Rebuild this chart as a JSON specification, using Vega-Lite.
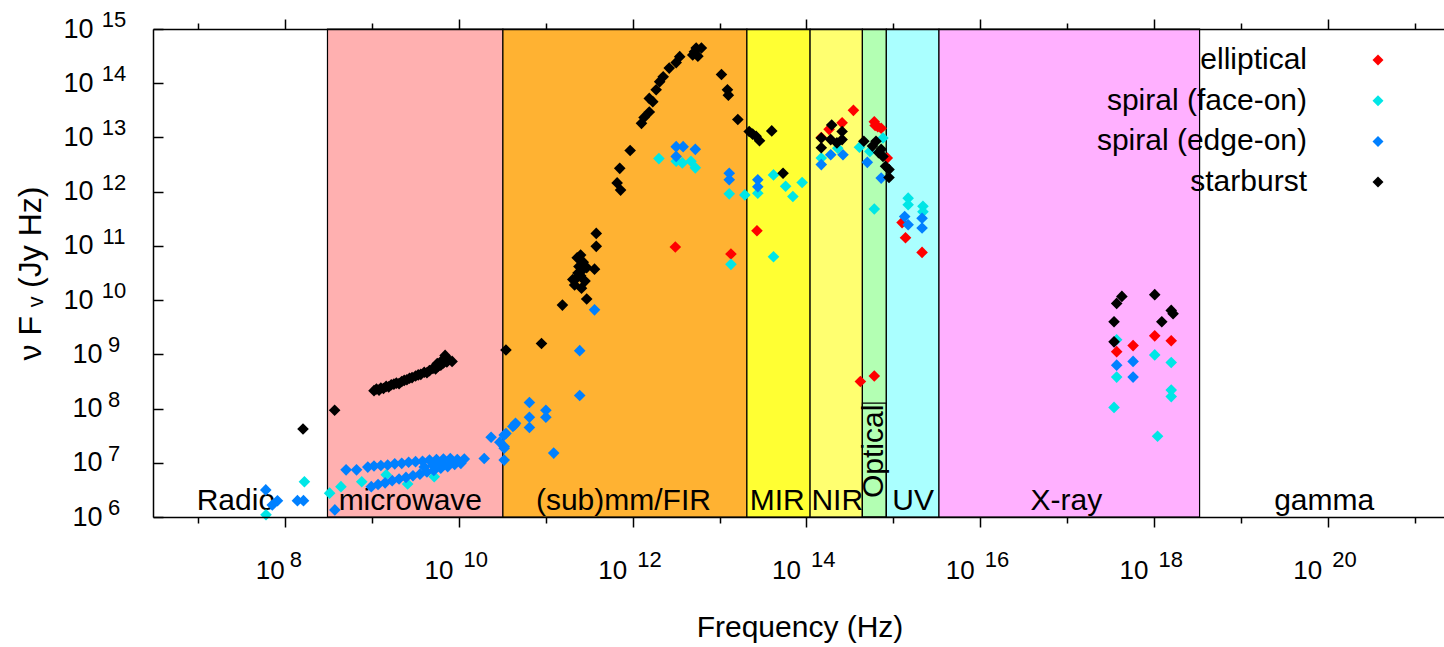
{
  "$schema": "https://vega.github.io/schema/vega-lite/v6.json",
  "width": 1293,
  "height": 488,
  "autosize": "none",
  "padding": {"left": 153, "top": 29, "right": 0, "bottom": 130},
  "background": "white",
  "config": {"view": {"stroke": null}, "font": "Liberation Sans"},
  "resolve": {"axis": {"x": "independent", "y": "independent"}},
  "datasets": {
    "bands": [
      {"band": "Radio", "lo": 3e6, "hi": 3.06e8, "mid": 2.7e7},
      {"band": "microwave", "lo": 3.06e8, "hi": 3.2e10, "mid": 2.75e9},
      {"band": "(sub)mm/FIR", "lo": 3.2e10, "hi": 2.06e13, "mid": 7.8e11},
      {"band": "MIR", "lo": 2.06e13, "hi": 1.1e14, "mid": 4.6e13},
      {"band": "NIR", "lo": 1.1e14, "hi": 4.4e14, "mid": 2.26e14},
      {"band": "Optical", "lo": 4.4e14, "hi": 8.3e14, "mid": 6.03e14},
      {"band": "UV", "lo": 8.3e14, "hi": 3.35e15, "mid": 1.69e15},
      {"band": "X-ray", "lo": 3.35e15, "hi": 3.35e18, "mid": 9.8e16},
      {"band": "gamma", "lo": 3.35e18, "hi": 2.3e21, "mid": 9.1e19}
    ],
    "xexp": [
      {"e": "8", "v": 1e8}, {"e": "10", "v": 1e10}, {"e": "12", "v": 1e12}, {"e": "14", "v": 1e14},
      {"e": "16", "v": 1e16}, {"e": "18", "v": 1e18}, {"e": "20", "v": 1e20}
    ],
    "yexp": [
      {"e": "6", "v": 1e6}, {"e": "7", "v": 1e7}, {"e": "8", "v": 1e8}, {"e": "9", "v": 1e9}, {"e": "10", "v": 1e10},
      {"e": "11", "v": 1e11}, {"e": "12", "v": 1e12}, {"e": "13", "v": 1e13}, {"e": "14", "v": 1e14}, {"e": "15", "v": 1e15}
    ],
    "pts": [
      {"type": "elliptical", "nu": 3.09e12, "flux": 9.55e10},
      {"type": "elliptical", "nu": 1.35e13, "flux": 7.08e10},
      {"type": "elliptical", "nu": 2.69e13, "flux": 1.9e11},
      {"type": "elliptical", "nu": 3.47e14, "flux": 3.16e13},
      {"type": "elliptical", "nu": 2.57e14, "flux": 1.86e13},
      {"type": "elliptical", "nu": 1.82e14, "flux": 1.41e13},
      {"type": "elliptical", "nu": 1.48e14, "flux": 1.0e13},
      {"type": "elliptical", "nu": 6.03e14, "flux": 1.95e13},
      {"type": "elliptical", "nu": 6.61e14, "flux": 1.58e13},
      {"type": "elliptical", "nu": 7.24e14, "flux": 1.48e13},
      {"type": "elliptical", "nu": 6.17e14, "flux": 1.66e13},
      {"type": "elliptical", "nu": 8.51e14, "flux": 4.17e12},
      {"type": "elliptical", "nu": 1.26e15, "flux": 2.69e11},
      {"type": "elliptical", "nu": 1.38e15, "flux": 1.41e11},
      {"type": "elliptical", "nu": 2.14e15, "flux": 7.59e10},
      {"type": "elliptical", "nu": 4.17e14, "flux": 3.16e8},
      {"type": "elliptical", "nu": 6.03e14, "flux": 3.98e8},
      {"type": "elliptical", "nu": 3.72e17, "flux": 1.12e9},
      {"type": "elliptical", "nu": 5.75e17, "flux": 1.45e9},
      {"type": "elliptical", "nu": 1.02e18, "flux": 2.19e9},
      {"type": "elliptical", "nu": 1.58e18, "flux": 1.78e9},

      {"type": "spiral (face-on)", "nu": 6.0e7, "flux": 1.1e6},
      {"type": "spiral (face-on)", "nu": 1.66e8, "flux": 4.47e6},
      {"type": "spiral (face-on)", "nu": 3.24e8, "flux": 2.75e6},
      {"type": "spiral (face-on)", "nu": 4.37e8, "flux": 3.63e6},
      {"type": "spiral (face-on)", "nu": 7.59e8, "flux": 4.47e6},
      {"type": "spiral (face-on)", "nu": 1.45e9, "flux": 6.03e6},
      {"type": "spiral (face-on)", "nu": 2.56e9, "flux": 4.06e6},
      {"type": "spiral (face-on)", "nu": 5.18e9, "flux": 5.55e6},
      {"type": "spiral (face-on)", "nu": 2.0e12, "flux": 4.07e12},
      {"type": "spiral (face-on)", "nu": 3.16e12, "flux": 3.63e12},
      {"type": "spiral (face-on)", "nu": 3.72e12, "flux": 3.39e12},
      {"type": "spiral (face-on)", "nu": 4.68e12, "flux": 3.63e12},
      {"type": "spiral (face-on)", "nu": 5.25e12, "flux": 2.75e12},
      {"type": "spiral (face-on)", "nu": 1.29e13, "flux": 9.12e11},
      {"type": "spiral (face-on)", "nu": 1.95e13, "flux": 8.71e11},
      {"type": "spiral (face-on)", "nu": 2.75e13, "flux": 9.33e11},
      {"type": "spiral (face-on)", "nu": 1.35e13, "flux": 4.57e10},
      {"type": "spiral (face-on)", "nu": 4.17e13, "flux": 2.04e12},
      {"type": "spiral (face-on)", "nu": 5.75e13, "flux": 1.26e12},
      {"type": "spiral (face-on)", "nu": 6.97e13, "flux": 8.13e11},
      {"type": "spiral (face-on)", "nu": 8.91e13, "flux": 1.48e12},
      {"type": "spiral (face-on)", "nu": 4.17e13, "flux": 6.31e10},
      {"type": "spiral (face-on)", "nu": 1.48e14, "flux": 4.17e12},
      {"type": "spiral (face-on)", "nu": 2.29e14, "flux": 6.31e12},
      {"type": "spiral (face-on)", "nu": 4.07e14, "flux": 6.61e12},
      {"type": "spiral (face-on)", "nu": 5.37e14, "flux": 5.5e12},
      {"type": "spiral (face-on)", "nu": 6.03e14, "flux": 4.79e11},
      {"type": "spiral (face-on)", "nu": 7.59e14, "flux": 9.77e12},
      {"type": "spiral (face-on)", "nu": 1.48e15, "flux": 7.59e11},
      {"type": "spiral (face-on)", "nu": 1.48e15, "flux": 5.75e11},
      {"type": "spiral (face-on)", "nu": 2.19e15, "flux": 5.37e11},
      {"type": "spiral (face-on)", "nu": 2.19e15, "flux": 4.27e11},
      {"type": "spiral (face-on)", "nu": 3.72e17, "flux": 1.86e9},
      {"type": "spiral (face-on)", "nu": 3.72e17, "flux": 3.8e8},
      {"type": "spiral (face-on)", "nu": 1.02e18, "flux": 9.77e8},
      {"type": "spiral (face-on)", "nu": 1.58e18, "flux": 7.08e8},
      {"type": "spiral (face-on)", "nu": 1.58e18, "flux": 2.19e8},
      {"type": "spiral (face-on)", "nu": 1.58e18, "flux": 1.66e8},
      {"type": "spiral (face-on)", "nu": 3.47e17, "flux": 1.05e8},
      {"type": "spiral (face-on)", "nu": 1.1e18, "flux": 3.09e7},

      {"type": "spiral (edge-on)", "nu": 5.96e7, "flux": 3.16e6},
      {"type": "spiral (edge-on)", "nu": 8.13e7, "flux": 1.99e6},
      {"type": "spiral (edge-on)", "nu": 7.08e7, "flux": 1.66e6},
      {"type": "spiral (edge-on)", "nu": 1.38e8, "flux": 2.0e6},
      {"type": "spiral (edge-on)", "nu": 1.62e8, "flux": 2.0e6},
      {"type": "spiral (edge-on)", "nu": 3.72e8, "flux": 1.35e6},
      {"type": "spiral (edge-on)", "nu": 5.01e8, "flux": 7.41e6},
      {"type": "spiral (edge-on)", "nu": 6.61e8, "flux": 7.41e6},
      {"type": "spiral (edge-on)", "nu": 8.91e8, "flux": 8.32e6},
      {"type": "spiral (edge-on)", "nu": 1.05e9, "flux": 8.71e6},
      {"type": "spiral (edge-on)", "nu": 1.26e9, "flux": 8.91e6},
      {"type": "spiral (edge-on)", "nu": 1.51e9, "flux": 9.12e6},
      {"type": "spiral (edge-on)", "nu": 1.82e9, "flux": 9.55e6},
      {"type": "spiral (edge-on)", "nu": 2.19e9, "flux": 9.77e6},
      {"type": "spiral (edge-on)", "nu": 2.63e9, "flux": 1.02e7},
      {"type": "spiral (edge-on)", "nu": 3.16e9, "flux": 1.05e7},
      {"type": "spiral (edge-on)", "nu": 3.8e9, "flux": 1.07e7},
      {"type": "spiral (edge-on)", "nu": 4.57e9, "flux": 1.12e7},
      {"type": "spiral (edge-on)", "nu": 5.5e9, "flux": 1.15e7},
      {"type": "spiral (edge-on)", "nu": 6.61e9, "flux": 1.17e7},
      {"type": "spiral (edge-on)", "nu": 7.94e9, "flux": 1.2e7},
      {"type": "spiral (edge-on)", "nu": 9.55e9, "flux": 1.15e7},
      {"type": "spiral (edge-on)", "nu": 1.15e10, "flux": 1.17e7},
      {"type": "spiral (edge-on)", "nu": 9.77e8, "flux": 3.63e6},
      {"type": "spiral (edge-on)", "nu": 1.17e9, "flux": 3.98e6},
      {"type": "spiral (edge-on)", "nu": 1.41e9, "flux": 4.27e6},
      {"type": "spiral (edge-on)", "nu": 1.7e9, "flux": 4.68e6},
      {"type": "spiral (edge-on)", "nu": 2.04e9, "flux": 5.01e6},
      {"type": "spiral (edge-on)", "nu": 2.45e9, "flux": 5.37e6},
      {"type": "spiral (edge-on)", "nu": 2.95e9, "flux": 5.75e6},
      {"type": "spiral (edge-on)", "nu": 3.55e9, "flux": 6.17e6},
      {"type": "spiral (edge-on)", "nu": 4.27e9, "flux": 6.76e6},
      {"type": "spiral (edge-on)", "nu": 5.13e9, "flux": 7.24e6},
      {"type": "spiral (edge-on)", "nu": 6.17e9, "flux": 7.94e6},
      {"type": "spiral (edge-on)", "nu": 7.41e9, "flux": 8.51e6},
      {"type": "spiral (edge-on)", "nu": 8.91e9, "flux": 9.33e6},
      {"type": "spiral (edge-on)", "nu": 1.05e10, "flux": 9.77e6},
      {"type": "spiral (edge-on)", "nu": 3.98e9, "flux": 8.32e6},
      {"type": "spiral (edge-on)", "nu": 6.31e9, "flux": 9.55e6},
      {"type": "spiral (edge-on)", "nu": 7.94e9, "flux": 1.0e7},
      {"type": "spiral (edge-on)", "nu": 5.01e9, "flux": 8.91e6},
      {"type": "spiral (edge-on)", "nu": 1.95e10, "flux": 1.2e7},
      {"type": "spiral (edge-on)", "nu": 2.34e10, "flux": 2.95e7},
      {"type": "spiral (edge-on)", "nu": 2.95e10, "flux": 2.4e7},
      {"type": "spiral (edge-on)", "nu": 3.31e10, "flux": 1.86e7},
      {"type": "spiral (edge-on)", "nu": 3.47e10, "flux": 3.47e7},
      {"type": "spiral (edge-on)", "nu": 4.37e10, "flux": 5.01e7},
      {"type": "spiral (edge-on)", "nu": 3.31e10, "flux": 3.24e7},
      {"type": "spiral (edge-on)", "nu": 3.31e10, "flux": 2.0e7},
      {"type": "spiral (edge-on)", "nu": 3.31e10, "flux": 1.12e7},
      {"type": "spiral (edge-on)", "nu": 4.17e10, "flux": 4.68e7},
      {"type": "spiral (edge-on)", "nu": 4.47e10, "flux": 5.37e7},
      {"type": "spiral (edge-on)", "nu": 6.46e10, "flux": 1.29e8},
      {"type": "spiral (edge-on)", "nu": 1.0e11, "flux": 9.33e7},
      {"type": "spiral (edge-on)", "nu": 1.0e11, "flux": 6.92e7},
      {"type": "spiral (edge-on)", "nu": 6.46e10, "flux": 6.92e7},
      {"type": "spiral (edge-on)", "nu": 6.46e10, "flux": 4.47e7},
      {"type": "spiral (edge-on)", "nu": 1.23e11, "flux": 1.51e7},
      {"type": "spiral (edge-on)", "nu": 2.45e11, "flux": 1.74e8},
      {"type": "spiral (edge-on)", "nu": 2.45e11, "flux": 1.17e9},
      {"type": "spiral (edge-on)", "nu": 3.63e11, "flux": 6.61e9},
      {"type": "spiral (edge-on)", "nu": 3.16e12, "flux": 6.76e12},
      {"type": "spiral (edge-on)", "nu": 3.8e12, "flux": 6.76e12},
      {"type": "spiral (edge-on)", "nu": 5.25e12, "flux": 6.03e12},
      {"type": "spiral (edge-on)", "nu": 3.16e12, "flux": 4.47e12},
      {"type": "spiral (edge-on)", "nu": 1.29e13, "flux": 2.19e12},
      {"type": "spiral (edge-on)", "nu": 1.29e13, "flux": 1.66e12},
      {"type": "spiral (edge-on)", "nu": 2.75e13, "flux": 1.66e12},
      {"type": "spiral (edge-on)", "nu": 2.75e13, "flux": 1.23e12},
      {"type": "spiral (edge-on)", "nu": 1.48e14, "flux": 3.16e12},
      {"type": "spiral (edge-on)", "nu": 1.9e14, "flux": 4.79e12},
      {"type": "spiral (edge-on)", "nu": 2.63e14, "flux": 4.79e12},
      {"type": "spiral (edge-on)", "nu": 5.01e14, "flux": 3.47e12},
      {"type": "spiral (edge-on)", "nu": 7.24e14, "flux": 1.78e12},
      {"type": "spiral (edge-on)", "nu": 1.35e15, "flux": 3.47e11},
      {"type": "spiral (edge-on)", "nu": 1.48e15, "flux": 2.45e11},
      {"type": "spiral (edge-on)", "nu": 2.14e15, "flux": 3.24e11},
      {"type": "spiral (edge-on)", "nu": 2.14e15, "flux": 2.14e11},
      {"type": "spiral (edge-on)", "nu": 3.72e17, "flux": 6.31e8},
      {"type": "spiral (edge-on)", "nu": 5.75e17, "flux": 7.41e8},
      {"type": "spiral (edge-on)", "nu": 5.75e17, "flux": 3.8e8},

      {"type": "starburst", "nu": 1.6e8, "flux": 4.2e7},
      {"type": "starburst", "nu": 3.7e8, "flux": 9.3e7},
      {"type": "starburst", "nu": 1.05e9, "flux": 2.14e8},
      {"type": "starburst", "nu": 1.12e9, "flux": 2.29e8},
      {"type": "starburst", "nu": 1.2e9, "flux": 2.19e8},
      {"type": "starburst", "nu": 1.26e9, "flux": 2.4e8},
      {"type": "starburst", "nu": 1.35e9, "flux": 2.34e8},
      {"type": "starburst", "nu": 1.45e9, "flux": 2.57e8},
      {"type": "starburst", "nu": 1.55e9, "flux": 2.51e8},
      {"type": "starburst", "nu": 1.66e9, "flux": 2.75e8},
      {"type": "starburst", "nu": 1.78e9, "flux": 2.82e8},
      {"type": "starburst", "nu": 1.9e9, "flux": 2.95e8},
      {"type": "starburst", "nu": 2.04e9, "flux": 2.88e8},
      {"type": "starburst", "nu": 2.19e9, "flux": 3.16e8},
      {"type": "starburst", "nu": 2.34e9, "flux": 3.31e8},
      {"type": "starburst", "nu": 2.51e9, "flux": 3.39e8},
      {"type": "starburst", "nu": 2.69e9, "flux": 3.63e8},
      {"type": "starburst", "nu": 2.88e9, "flux": 3.72e8},
      {"type": "starburst", "nu": 3.16e9, "flux": 3.98e8},
      {"type": "starburst", "nu": 3.39e9, "flux": 4.17e8},
      {"type": "starburst", "nu": 3.63e9, "flux": 4.27e8},
      {"type": "starburst", "nu": 3.98e9, "flux": 4.68e8},
      {"type": "starburst", "nu": 4.27e9, "flux": 4.57e8},
      {"type": "starburst", "nu": 4.57e9, "flux": 5.01e8},
      {"type": "starburst", "nu": 5.01e9, "flux": 5.5e8},
      {"type": "starburst", "nu": 5.37e9, "flux": 5.37e8},
      {"type": "starburst", "nu": 5.75e9, "flux": 6.03e8},
      {"type": "starburst", "nu": 6.17e9, "flux": 6.31e8},
      {"type": "starburst", "nu": 6.61e9, "flux": 6.92e8},
      {"type": "starburst", "nu": 7.08e9, "flux": 8.51e8},
      {"type": "starburst", "nu": 7.24e9, "flux": 7.24e8},
      {"type": "starburst", "nu": 7.59e9, "flux": 7.94e8},
      {"type": "starburst", "nu": 6.92e9, "flux": 9.55e8},
      {"type": "starburst", "nu": 8.32e9, "flux": 7.41e8},
      {"type": "starburst", "nu": 6.31e9, "flux": 7.59e8},
      {"type": "starburst", "nu": 5.62e9, "flux": 6.76e8},
      {"type": "starburst", "nu": 3.47e10, "flux": 1.2e9},
      {"type": "starburst", "nu": 8.9e10, "flux": 1.58e9},
      {"type": "starburst", "nu": 1.55e11, "flux": 8.1e9},
      {"type": "starburst", "nu": 2.95e11, "flux": 1.05e10},
      {"type": "starburst", "nu": 2.14e11, "flux": 1.9e10},
      {"type": "starburst", "nu": 2.24e11, "flux": 2.5e10},
      {"type": "starburst", "nu": 2.34e11, "flux": 3.16e10},
      {"type": "starburst", "nu": 2.4e11, "flux": 4.17e10},
      {"type": "starburst", "nu": 2.51e11, "flux": 2.82e10},
      {"type": "starburst", "nu": 2.63e11, "flux": 3.55e10},
      {"type": "starburst", "nu": 2.69e11, "flux": 5.01e10},
      {"type": "starburst", "nu": 2.82e11, "flux": 2.24e10},
      {"type": "starburst", "nu": 2.29e11, "flux": 6.03e10},
      {"type": "starburst", "nu": 2.51e11, "flux": 6.76e10},
      {"type": "starburst", "nu": 2.95e11, "flux": 3.98e10},
      {"type": "starburst", "nu": 3.63e11, "flux": 3.72e10},
      {"type": "starburst", "nu": 3.8e11, "flux": 9.8e10},
      {"type": "starburst", "nu": 3.8e11, "flux": 1.7e11},
      {"type": "starburst", "nu": 2.57e11, "flux": 1.66e10},
      {"type": "starburst", "nu": 2.04e11, "flux": 2.4e10},
      {"type": "starburst", "nu": 7.08e11, "flux": 2.69e12},
      {"type": "starburst", "nu": 6.61e11, "flux": 1.45e12},
      {"type": "starburst", "nu": 7.24e11, "flux": 1.07e12},
      {"type": "starburst", "nu": 9.33e11, "flux": 5.75e12},
      {"type": "starburst", "nu": 1.26e12, "flux": 1.82e13},
      {"type": "starburst", "nu": 1.35e12, "flux": 2.34e13},
      {"type": "starburst", "nu": 1.55e12, "flux": 2.95e13},
      {"type": "starburst", "nu": 1.55e12, "flux": 5.25e13},
      {"type": "starburst", "nu": 1.7e12, "flux": 4.57e13},
      {"type": "starburst", "nu": 1.86e12, "flux": 7.59e13},
      {"type": "starburst", "nu": 2.04e12, "flux": 1.07e14},
      {"type": "starburst", "nu": 2.24e12, "flux": 1.32e14},
      {"type": "starburst", "nu": 2.63e12, "flux": 1.9e14},
      {"type": "starburst", "nu": 3.16e12, "flux": 2.4e14},
      {"type": "starburst", "nu": 3.47e12, "flux": 3.09e14},
      {"type": "starburst", "nu": 4.9e12, "flux": 3.31e14},
      {"type": "starburst", "nu": 5.37e12, "flux": 4.47e14},
      {"type": "starburst", "nu": 6.17e12, "flux": 4.47e14},
      {"type": "starburst", "nu": 5.62e12, "flux": 3.16e14},
      {"type": "starburst", "nu": 5.13e12, "flux": 3.8e14},
      {"type": "starburst", "nu": 1.05e13, "flux": 1.45e14},
      {"type": "starburst", "nu": 1.23e13, "flux": 7.59e13},
      {"type": "starburst", "nu": 1.26e13, "flux": 6.03e13},
      {"type": "starburst", "nu": 1.62e13, "flux": 2.14e13},
      {"type": "starburst", "nu": 2.19e13, "flux": 1.29e13},
      {"type": "starburst", "nu": 2.63e13, "flux": 1.05e13},
      {"type": "starburst", "nu": 2.88e13, "flux": 8.7e12},
      {"type": "starburst", "nu": 2.4e13, "flux": 1.15e13},
      {"type": "starburst", "nu": 3.98e13, "flux": 1.32e13},
      {"type": "starburst", "nu": 5.37e13, "flux": 2.19e12},
      {"type": "starburst", "nu": 1.48e14, "flux": 9.77e12},
      {"type": "starburst", "nu": 1.95e14, "flux": 1.7e13},
      {"type": "starburst", "nu": 1.48e14, "flux": 6.46e12},
      {"type": "starburst", "nu": 1.9e14, "flux": 9.12e12},
      {"type": "starburst", "nu": 2.57e14, "flux": 1.29e13},
      {"type": "starburst", "nu": 2.57e14, "flux": 9.12e12},
      {"type": "starburst", "nu": 2.24e14, "flux": 7.94e12},
      {"type": "starburst", "nu": 4.57e14, "flux": 8.51e12},
      {"type": "starburst", "nu": 5.75e14, "flux": 6.92e12},
      {"type": "starburst", "nu": 6.31e14, "flux": 8.51e12},
      {"type": "starburst", "nu": 7.24e14, "flux": 6.03e12},
      {"type": "starburst", "nu": 7.59e14, "flux": 4.47e12},
      {"type": "starburst", "nu": 8.13e14, "flux": 2.95e12},
      {"type": "starburst", "nu": 8.91e14, "flux": 2.57e12},
      {"type": "starburst", "nu": 8.91e14, "flux": 1.82e12},
      {"type": "starburst", "nu": 6.76e14, "flux": 5.25e12},
      {"type": "starburst", "nu": 4.27e17, "flux": 1.17e10},
      {"type": "starburst", "nu": 3.72e17, "flux": 8.7e9},
      {"type": "starburst", "nu": 3.47e17, "flux": 3.98e9},
      {"type": "starburst", "nu": 3.47e17, "flux": 1.7e9},
      {"type": "starburst", "nu": 1.02e18, "flux": 1.26e10},
      {"type": "starburst", "nu": 1.58e18, "flux": 6.46e9},
      {"type": "starburst", "nu": 1.23e18, "flux": 3.98e9},
      {"type": "starburst", "nu": 1.66e18, "flux": 5.62e9}
    ]
  },
  "layer": [
    {
      "data": {"name": "bands"},
      "transform": [{"filter": "datum.band != 'Radio' && datum.band != 'gamma'"}],
      "mark": {"type": "rect", "stroke": "black", "strokeWidth": 1.2},
      "encoding": {
        "x": {"field": "lo", "type": "quantitative",
              "scale": {"type": "log", "domain": [3e6, 2.3e21], "nice": false},
              "axis": {"orient": "top", "values": [1e7, 1e8, 1e9, 1e10, 1e11, 1e12, 1e13, 1e14, 1e15, 1e16, 1e17, 1e18, 1e19, 1e20, 1e21],
                       "labels": false, "title": null, "grid": false, "zindex": 1,
                       "tickSize": {"condition": {"test": "round(log(datum.value)/LN10) % 2 == 1", "value": 6}, "value": 10},
                       "tickColor": "black", "tickWidth": 1.5, "domainColor": "black", "domainWidth": 1.5}},
        "x2": {"field": "hi"},
        "y": {"datum": 1e15, "type": "quantitative", "scale": {"type": "log", "domain": [1e6, 1e15], "nice": false}, "axis": null},
        "y2": {"datum": 1e6},
        "fill": {"field": "band", "type": "nominal", "legend": null,
                 "scale": {"domain": ["microwave", "(sub)mm/FIR", "MIR", "NIR", "Optical", "UV", "X-ray"],
                           "range": ["#ffb0b0", "#ffb232", "#ffff33", "#ffff70", "#b3ffb3", "#aaffff", "#ffb0ff"]}}
      }
    },
    {
      "data": {"name": "bands"},
      "transform": [{"filter": "datum.band == 'Optical'"}],
      "mark": {"type": "rect", "stroke": "black", "strokeWidth": 1.2, "fillOpacity": 0},
      "encoding": {
        "x": {"field": "lo", "type": "quantitative", "scale": {"type": "log", "domain": [3e6, 2.3e21], "nice": false}, "axis": null},
        "x2": {"field": "hi"},
        "y": {"datum": 1.26e8, "type": "quantitative", "scale": {"type": "log", "domain": [1e6, 1e15], "nice": false}, "axis": null},
        "y2": {"datum": 1e6}
      }
    },
    {
      "data": {"name": "bands"},
      "transform": [{"filter": "datum.band != 'Optical'"}],
      "mark": {"type": "text", "fontSize": 30, "baseline": "alphabetic", "align": "center", "dy": -7, "color": "black"},
      "encoding": {
        "x": {"field": "mid", "type": "quantitative", "scale": {"type": "log", "domain": [3e6, 2.3e21], "nice": false}, "axis": null},
        "y": {"datum": 1e6, "type": "quantitative", "scale": {"type": "log", "domain": [1e6, 1e15], "nice": false}, "axis": null},
        "text": {"field": "band"}
      }
    },
    {
      "data": {"name": "bands"},
      "transform": [{"filter": "datum.band == 'Optical'"}],
      "mark": {"type": "text", "fontSize": 30, "baseline": "middle", "align": "left", "angle": 270, "color": "black"},
      "encoding": {
        "x": {"field": "mid", "type": "quantitative", "scale": {"type": "log", "domain": [3e6, 2.3e21], "nice": false}, "axis": null},
        "y": {"datum": 2.24e6, "type": "quantitative", "scale": {"type": "log", "domain": [1e6, 1e15], "nice": false}, "axis": null},
        "text": {"field": "band"}
      }
    },
    {
      "data": {"name": "pts"},
      "mark": {"type": "point", "shape": "diamond", "filled": true, "size": 135, "opacity": 1, "strokeWidth": 0},
      "encoding": {
        "x": {"field": "nu", "type": "quantitative",
              "scale": {"type": "log", "domain": [3e6, 2.3e21], "nice": false},
              "axis": {"orient": "bottom", "values": [1e7, 1e8, 1e9, 1e10, 1e11, 1e12, 1e13, 1e14, 1e15, 1e16, 1e17, 1e18, 1e19, 1e20, 1e21],
                       "labelExpr": "(round(log(datum.value)/LN10) % 2 == 0) ? '10' : ''",
                       "labelFontSize": 26, "labelColor": "black", "labelAlign": "right", "labelBaseline": "alphabetic",
                       "labelOffset": {"condition": {"test": "datum.value < 1e9", "value": -1}, "value": -6},
                       "labelPadding": 51, "labelFlush": false, "labelOverlap": false, "labelBound": false,
                       "tickSize": {"condition": {"test": "round(log(datum.value)/LN10) % 2 == 1", "value": 6}, "value": 10},
                       "tickColor": "black", "tickWidth": 1.5, "domainColor": "black", "domainWidth": 1.5,
                       "grid": false, "zindex": 1,
                       "title": "Frequency (Hz)", "titleFontSize": 30, "titleFontWeight": "normal", "titleColor": "black", "titlePadding": 29}},
        "y": {"field": "flux", "type": "quantitative",
              "scale": {"type": "log", "domain": [1e6, 1e15], "nice": false},
              "axis": {"orient": "left", "values": [1e6, 1e7, 1e8, 1e9, 1e10, 1e11, 1e12, 1e13, 1e14, 1e15],
                       "labelExpr": "'10'", "labelFontSize": 27, "labelColor": "black", "labelAlign": "right", "labelBaseline": "middle",
                       "labelPadding": {"condition": {"test": "datum.value >= 1e10", "value": 60}, "value": 51},
                       "labelFlush": false, "labelOverlap": false, "labelBound": false,
                       "ticks": false,
                       "grid": true, "gridDash": [10, 3000], "gridColor": "black", "gridWidth": 1.5, "gridOpacity": 1,
                       "domain": true, "domainColor": "black", "domainWidth": 1.5,
                       "zindex": 1,
                       "title": "ν F ᵥ (Jy Hz)", "titleFontSize": 32, "titleFontWeight": "normal", "titleColor": "black", "titlePadding": 15}},
        "color": {"field": "type", "type": "nominal",
                  "scale": {"domain": ["elliptical", "spiral (face-on)", "spiral (edge-on)", "starburst"],
                            "range": ["#ff0000", "#00e6e6", "#0080ff", "#000000"]},
                  "legend": {"orient": "none", "legendX": 1210, "legendY": 16, "title": null,
                             "labelFontSize": 30, "labelColor": "black", "labelAlign": "right", "labelOffset": -86,
                             "labelBaseline": "middle", "labelLimit": 0,
                             "symbolType": "diamond", "symbolSize": 120, "symbolStrokeWidth": 0,
                             "rowPadding": 10.7, "padding": 0}}
      }
    },
    {
      "data": {"name": "xexp"},
      "mark": {"type": "text", "fontSize": 22, "baseline": "alphabetic", "align": "left", "dx": 4.5, "dy": 50, "color": "black"},
      "encoding": {
        "x": {"field": "v", "type": "quantitative", "scale": {"type": "log", "domain": [3e6, 2.3e21], "nice": false}, "axis": null},
        "y": {"datum": 1e6, "type": "quantitative", "scale": {"type": "log", "domain": [1e6, 1e15], "nice": false}, "axis": null},
        "text": {"field": "e"}
      }
    },
    {
      "data": {"name": "yexp"},
      "mark": {"type": "text", "fontSize": 22, "baseline": "middle", "align": "center", "dx": -39, "dy": -9, "color": "black"},
      "encoding": {
        "x": {"datum": 3e6, "type": "quantitative", "scale": {"type": "log", "domain": [3e6, 2.3e21], "nice": false}, "axis": null},
        "y": {"field": "v", "type": "quantitative", "scale": {"type": "log", "domain": [1e6, 1e15], "nice": false}, "axis": null},
        "text": {"field": "e"}
      }
    }
  ]
}
